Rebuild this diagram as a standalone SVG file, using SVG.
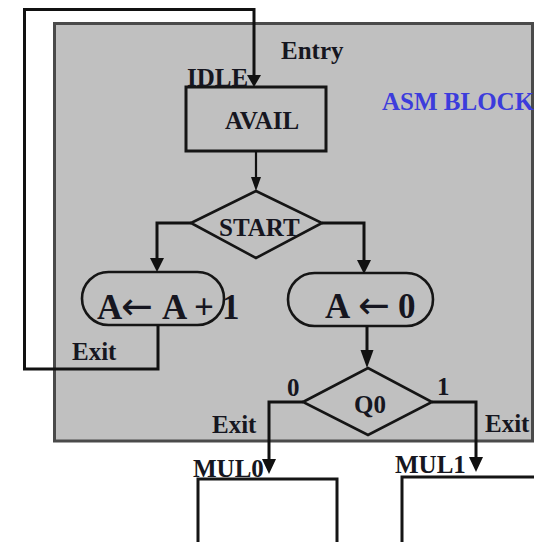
<svg xmlns="http://www.w3.org/2000/svg" width="534" height="542" viewBox="0 0 534 542">
<style>
.t{font-family:"Liberation Serif","Times New Roman",serif;font-weight:bold;font-size:25px;fill:#161620}
.big{font-size:35px}
.arr{font-family:"DejaVu Sans",sans-serif;font-weight:normal;font-size:38px}
.blue{fill:#3c3cdc}
.ln{fill:none;stroke:#111;stroke-width:3}
.shape{fill:none;stroke:#151515;stroke-width:2.6}
.box{fill:none;stroke:#151515;stroke-width:3}
.wbox{fill:#fff;stroke:#151515;stroke-width:3}
.ah{fill:#111}
</style>
<rect width="534" height="542" fill="#fff"/>
<g id="asm-block">
  <rect x="54.5" y="23.5" width="478" height="417.5" fill="#c0c0c0" stroke="#4a4a4a" stroke-width="3"/>
  <text class="t blue" x="382" y="110">ASM BLOCK</text>
</g>
<g id="idle">
  <rect class="box" x="186" y="87" width="140" height="64"/>
  <text class="t" x="225" y="129">AVAIL</text>
  <text class="t" x="187" y="86">IDLE</text>
</g>
<g id="start">
  <polygon class="shape" points="191,223 256,191 322,223 256,258"/>
  <text class="t" x="219" y="236">START</text>
</g>
<g id="inc">
  <rect class="shape" x="82" y="272" width="142" height="53" rx="26.5"/>
  <text class="t big" y="319"><tspan x="97">A</tspan><tspan class="arr" x="121">←</tspan><tspan x="162">A</tspan><tspan x="194">+</tspan><tspan x="222">1</tspan></text>
</g>
<g id="clr">
  <rect class="shape" x="288" y="273" width="145" height="53" rx="26.5"/>
  <text class="t big" y="318"><tspan x="325">A</tspan><tspan class="arr" x="358">←</tspan><tspan x="398">0</tspan></text>
</g>
<g id="q0">
  <polygon class="shape" points="303,402 368,368 432,402 368,435"/>
  <text class="t" x="354" y="413">Q0</text>
</g>
<g id="mul0">
  <rect class="wbox" x="198" y="479" width="139" height="70"/>
  <text class="t" x="193" y="477">MUL0</text>
</g>
<g id="mul1">
  <rect class="wbox" x="402" y="477" width="150" height="70"/>
  <text class="t" x="395" y="473">MUL1</text>
</g>
<g id="connectors">
  <path class="ln" d="M158,325 V369 H24.5 V9.5 H254 V76"/>
  <polygon class="ah" points="247,75 261,75 254,87"/>
  <path class="ln" d="M256,151 V180" style="stroke-width:2.2"/>
  <polygon class="ah" points="251,177 261,177 256,191"/>
  <path class="ln" d="M191,223 H157 V260"/>
  <polygon class="ah" points="150,258 164,258 157,272"/>
  <path class="ln" d="M322,223 H364 V262"/>
  <polygon class="ah" points="357,260 371,260 364,274"/>
  <path class="ln" d="M367,326 V352"/>
  <polygon class="ah" points="360.5,350 373.5,350 367,368"/>
  <path class="ln" d="M303,402 H269 V462"/>
  <polygon class="ah" points="262,459 276,459 269,474"/>
  <path class="ln" d="M432,402 H476 V460"/>
  <polygon class="ah" points="469,457 483,457 476,472"/>
  <text class="t" x="281" y="59">Entry</text>
  <text class="t" x="72" y="360">Exit</text>
  <text class="t" x="287" y="396">0</text>
  <text class="t" x="437" y="395">1</text>
  <text class="t" x="212" y="433">Exit</text>
  <text class="t" x="485" y="432">Exit</text>
</g>
</svg>
